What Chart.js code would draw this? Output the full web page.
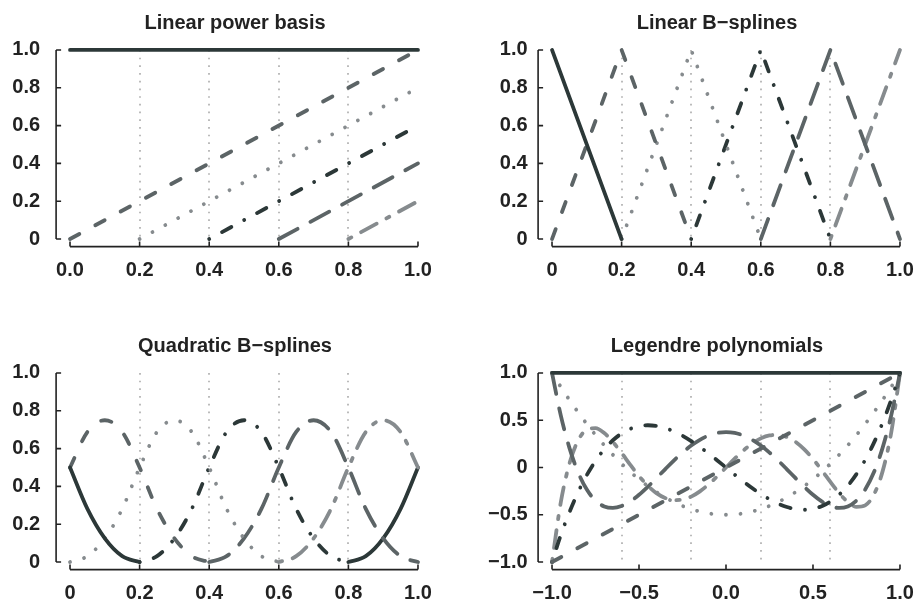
<!DOCTYPE html>
<html>
<head>
<meta charset="utf-8">
<script src="https://cdn.jsdelivr.net/npm/chart.js@4.4.1/dist/chart.umd.min.js"></script>
<style>
html, body { margin: 0; padding: 0; background: #fff; }
body { width: 917px; height: 604px; position: relative; overflow: hidden; }
.panel { position: absolute; width: 435px; height: 281px; }
</style>
</head>
<body>
<div class="panel" style="left:0;top:0"><canvas id="c1" width="435" height="281"></canvas></div>
<div class="panel" style="left:482px;top:0"><canvas id="c2" width="435" height="281"></canvas></div>
<div class="panel" style="left:0;top:323px"><canvas id="c3" width="435" height="281"></canvas></div>
<div class="panel" style="left:482px;top:323px"><canvas id="c4" width="435" height="281"></canvas></div>
<script>
// ticks and labels
const ticks01 = [0, 0.2, 0.4, 0.6, 0.8, 1];
const yLabels01 = ["0", "0.2", "0.4", "0.6", "0.8", "1.0"];
const xLabelsPower = ["0.0", "0.2", "0.4", "0.6", "0.8", "1.0"];
const xLabelsSpline = ["0", "0.2", "0.4", "0.6", "0.8", "1.0"];
const legTicks = [-1, -0.5, 0, 0.5, 1];
const legXLabels = ["\u22121.0", "\u22120.5", "0.0", "0.5", "1.0"];
const legYLabels = ["\u22121.0", "\u22120.5", "0", "0.5", "1.0"];
const knots01 = [0.2, 0.4, 0.6, 0.8];
const legKnots = [-0.6, -0.2, 0.2, 0.6];

// Linear power basis
const powerX = [[0, 1], [0, 1], [0.2, 1], [0.4, 1], [0.6, 1], [0.8, 1]];
const powerY = [[1, 1], [0, 1], [0, 0.8], [0, 0.6], [0, 0.4], [0, 0.2]];

// Linear B-splines
const linX = [[0, 0.2], [0, 0.2, 0.4], [0.2, 0.4, 0.6], [0.4, 0.6, 0.8], [0.6, 0.8, 1], [0.8, 1]];
const linY = [[1, 0], [0, 1, 0], [0, 1, 0], [0, 1, 0], [0, 1, 0], [0, 1]];

// Quadratic B-splines, read every 0.05
const quadX = [0, 0.05, 0.1, 0.15, 0.2, 0.25, 0.3, 0.35, 0.4, 0.45, 0.5, 0.55, 0.6, 0.65, 0.7, 0.75, 0.8, 0.85, 0.9, 0.95, 1];
const quad1 = [0.5, 0.281, 0.125, 0.031, 0, null, null, null, null, null, null, null, null, null, null, null, null, null, null, null, null];
const quad2 = [0.5, 0.688, 0.75, 0.688, 0.5, 0.281, 0.125, 0.031, 0, null, null, null, null, null, null, null, null, null, null, null, null];
const quad3 = [0, 0.031, 0.125, 0.281, 0.5, 0.688, 0.75, 0.688, 0.5, 0.281, 0.125, 0.031, 0, null, null, null, null, null, null, null, null];
const quad4 = [null, null, null, null, 0, 0.031, 0.125, 0.281, 0.5, 0.688, 0.75, 0.688, 0.5, 0.281, 0.125, 0.031, 0, null, null, null, null];
const quad5 = [null, null, null, null, null, null, null, null, 0, 0.031, 0.125, 0.281, 0.5, 0.688, 0.75, 0.688, 0.5, 0.281, 0.125, 0.031, 0];
const quad6 = [null, null, null, null, null, null, null, null, null, null, null, null, 0, 0.031, 0.125, 0.281, 0.5, 0.688, 0.75, 0.688, 0.5];
const quad7 = [null, null, null, null, null, null, null, null, null, null, null, null, null, null, null, null, 0, 0.031, 0.125, 0.281, 0.5];

// Legendre polynomials, read every 0.05
const legX = [-1, -0.95, -0.9, -0.85, -0.8, -0.75, -0.7, -0.65, -0.6, -0.55, -0.5, -0.45, -0.4, -0.35, -0.3, -0.25, -0.2, -0.15, -0.1, -0.05, 0,
              0.05, 0.1, 0.15, 0.2, 0.25, 0.3, 0.35, 0.4, 0.45, 0.5, 0.55, 0.6, 0.65, 0.7, 0.75, 0.8, 0.85, 0.9, 0.95, 1];
const leg0X = [-1, 1];
const leg0 = [1, 1];
const leg1 = [-1, 1];
const leg2 = [1, 0.854, 0.715, 0.584, 0.46, 0.344, 0.235, 0.134, 0.04, -0.046, -0.125, -0.196, -0.26, -0.316, -0.365, -0.406, -0.44, -0.466, -0.485, -0.496, -0.5,
              -0.496, -0.485, -0.466, -0.44, -0.406, -0.365, -0.316, -0.26, -0.196, -0.125, -0.046, 0.04, 0.134, 0.235, 0.344, 0.46, 0.584, 0.715, 0.854, 1];
const leg3 = [-1, -0.718, -0.473, -0.26, -0.08, 0.07, 0.193, 0.288, 0.36, 0.409, 0.438, 0.447, 0.44, 0.418, 0.383, 0.336, 0.28, 0.217, 0.148, 0.075, 0,
              -0.075, -0.148, -0.217, -0.28, -0.336, -0.383, -0.418, -0.44, -0.447, -0.438, -0.409, -0.36, -0.288, -0.193, -0.07, 0.08, 0.26, 0.473, 0.718, 1];
const leg4 = [1, 0.554, 0.208, -0.051, -0.233, -0.35, -0.412, -0.428, -0.408, -0.359, -0.289, -0.205, -0.113, -0.019, 0.073, 0.158, 0.232, 0.293, 0.338, 0.366, 0.375,
              0.366, 0.338, 0.293, 0.232, 0.158, 0.073, -0.019, -0.113, -0.205, -0.289, -0.359, -0.408, -0.428, -0.412, -0.35, -0.233, -0.051, 0.208, 0.554, 1];
const leg5 = [-1, -0.373, 0.041, 0.286, 0.4, 0.416, 0.365, 0.27, 0.153, 0.028, -0.09, -0.192, -0.271, -0.322, -0.345, -0.34, -0.308, -0.252, -0.179, -0.093, 0,
              0.093, 0.179, 0.252, 0.308, 0.34, 0.345, 0.322, 0.271, 0.192, 0.09, -0.028, -0.153, -0.27, -0.365, -0.416, -0.4, -0.286, -0.041, 0.373, 1];

// styles
const ink = "#222222";
const greys = ["#2c3838", "#5c6466", "#868b8e"];
const fontFamily = "'Liberation Sans', Arial, sans-serif";
const unit = 3.6, lw = 3.8;
const ltys = [[], [4, 4], [1, 3], [1, 3, 4, 3], [7, 3], [2, 2, 6, 2]];

function dashOf(k) {
  // R style line types, round caps eat into the gaps
  return ltys[k % 6].map((n, i) => i % 2 === 0 ? Math.max(0.01, n * unit - lw) : n * unit + lw);
}

// R-like axes: lines only between the outer ticks, ticks pointing inwards,
// dotted knot lines and a title centred a little left of the plot
const rAxes = {
  id: 'rAxes',
  beforeDatasetsDraw(chart, args, o) {
    const {ctx, scales: {x, y}} = chart;
    const y0 = y.getPixelForValue(o.yTicks[0]);
    const y1 = y.getPixelForValue(o.yTicks[o.yTicks.length - 1]);
    ctx.save();
    ctx.strokeStyle = '#b0b0b0';
    ctx.lineWidth = 1.7;
    ctx.lineCap = 'butt';
    ctx.setLineDash([1.7, 6]);
    o.knots.forEach(k => {
      const px = Math.round(x.getPixelForValue(k));
      ctx.beginPath();
      ctx.moveTo(px, y1);
      ctx.lineTo(px, y0);
      ctx.stroke();
    });
    ctx.restore();
  },
  afterDraw(chart, args, o) {
    const {ctx, chartArea: a, scales: {x, y}} = chart;
    const xp = x.ticks.map(t => x.getPixelForValue(t.value));
    const yp = y.ticks.map(t => y.getPixelForValue(t.value));
    ctx.save();
    ctx.strokeStyle = ink;
    ctx.lineWidth = 1.6;
    ctx.setLineDash([]);
    ctx.beginPath();
    ctx.moveTo(xp[0], a.bottom);
    ctx.lineTo(xp[xp.length - 1], a.bottom);
    xp.forEach(p => { ctx.moveTo(p, a.bottom); ctx.lineTo(p, a.bottom - 5); });
    ctx.moveTo(a.left, yp[0]);
    ctx.lineTo(a.left, yp[yp.length - 1]);
    yp.forEach(p => { ctx.moveTo(a.left, p); ctx.lineTo(a.left + 5, p); });
    ctx.stroke();
    ctx.fillStyle = ink;
    ctx.font = "bold 20px " + fontFamily;
    ctx.textAlign = 'center';
    ctx.textBaseline = 'alphabetic';
    ctx.fillText(o.title, 235, 28.6);
    ctx.restore();
  }
};

function makeChart(id, c) {
  const datasets = c.ys.map((ys, k) => ({
    data: ys.map((v, i) => ({x: c.xs[k][i], y: v})),
    borderColor: greys[k % 3],
    borderWidth: lw,
    borderDash: dashOf(k),
    borderCapStyle: 'round',
    borderJoinStyle: 'round',
    pointRadius: 0,
    fill: false,
    tension: 0,
    cubicInterpolationMode: c.smooth ? 'monotone' : 'default',
    spanGaps: false
  }));
  const xr = c.xTicks[c.xTicks.length - 1] - c.xTicks[0];
  const yr = c.yTicks[c.yTicks.length - 1] - c.yTicks[0];
  const tickFont = {family: fontFamily, size: 20, weight: 'bold'};
  return new Chart(document.getElementById(id), {
    type: 'line',
    data: {datasets: datasets},
    options: {
      responsive: false,
      animation: false,
      events: [],
      layout: {padding: {left: 0, right: 3.1, top: 42.4, bottom: 0}},
      plugins: {
        legend: {display: false},
        tooltip: {enabled: false},
        title: {display: false},
        rAxes: {knots: c.knots, yTicks: c.yTicks, title: c.title}
      },
      scales: {
        x: {
          type: 'linear',
          min: c.xTicks[0] - 0.04 * xr,
          max: c.xTicks[c.xTicks.length - 1] + 0.04 * xr,
          afterBuildTicks: s => { s.ticks = c.xTicks.map(v => ({value: v})); },
          afterFit: s => { s.height = 34.4; s.paddingLeft = 0; s.paddingRight = 0; },
          grid: {display: false, drawTicks: false, tickLength: 0},
          border: {display: false},
          ticks: {
            autoSkip: false, maxRotation: 0, minRotation: 0,
            color: ink, font: tickFont, padding: 12,
            callback: (v, i) => c.xLabels[i]
          }
        },
        y: {
          type: 'linear',
          min: c.yTicks[0] - 0.04 * yr,
          max: c.yTicks[c.yTicks.length - 1] + 0.04 * yr,
          afterBuildTicks: s => { s.ticks = c.yTicks.map(v => ({value: v})); },
          afterFit: s => { s.width = 56.1; s.paddingTop = 0; s.paddingBottom = 0; },
          grid: {display: false, drawTicks: false, tickLength: 0},
          border: {display: false},
          ticks: {
            autoSkip: false,
            color: ink, font: tickFont, padding: c.labelGap,
            callback: (v, i) => c.yLabels[i]
          }
        }
      }
    },
    plugins: [rAxes]
  });
}

makeChart('c1', {
  title: 'Linear power basis', xs: powerX, ys: powerY,
  xTicks: ticks01, xLabels: xLabelsPower, yTicks: ticks01, yLabels: yLabels01,
  knots: knots01, smooth: false, labelGap: 16
});
makeChart('c2', {
  title: 'Linear B\u2212splines', xs: linX, ys: linY,
  xTicks: ticks01, xLabels: xLabelsSpline, yTicks: ticks01, yLabels: yLabels01,
  knots: knots01, smooth: false, labelGap: 10.5
});
makeChart('c3', {
  title: 'Quadratic B\u2212splines',
  xs: [quadX, quadX, quadX, quadX, quadX, quadX, quadX],
  ys: [quad1, quad2, quad3, quad4, quad5, quad6, quad7],
  xTicks: ticks01, xLabels: xLabelsSpline, yTicks: ticks01, yLabels: yLabels01,
  knots: knots01, smooth: true, labelGap: 16
});
makeChart('c4', {
  title: 'Legendre polynomials',
  xs: [leg0X, leg0X, legX, legX, legX, legX],
  ys: [leg0, leg1, leg2, leg3, leg4, leg5],
  xTicks: legTicks, xLabels: legXLabels, yTicks: legTicks, yLabels: legYLabels,
  knots: legKnots, smooth: true, labelGap: 10.5
});
</script>
</body>
</html>
